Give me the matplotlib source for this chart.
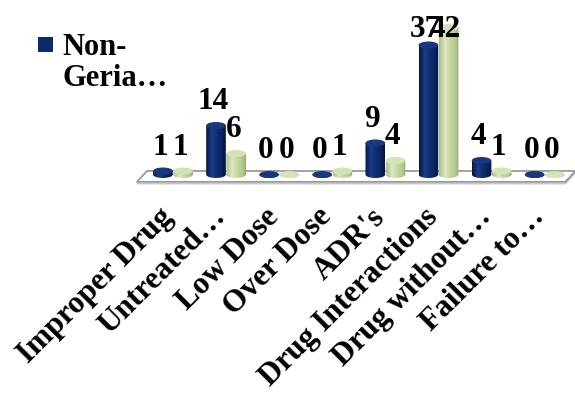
import numpy as np
import matplotlib
matplotlib.use("Agg")
import matplotlib.pyplot as plt
from matplotlib.patches import Ellipse, Polygon, Rectangle, PathPatch
from matplotlib.path import Path
from matplotlib.colors import LinearSegmentedColormap
from matplotlib.transforms import ScaledTranslation

categories = ["Improper Drug", "Untreated…", "Low Dose", "Over Dose",
              "ADR's", "Drug Interactions", "Drug without…", "Failure to…"]
non_geriatric = [1, 14, 0, 0, 9, 37, 4, 0]
geriatric = [1, 6, 0, 1, 4, 42, 1, 0]
legend_label = "Non-\nGeria…"

FONT = "Liberation Serif"
W, H, DPI = 5.75, 3.94, 100
FS = 22.5

fig = plt.figure(figsize=(W, H), dpi=DPI)
fig.patch.set_facecolor("white")

# axes placed so that one category step is ~53 px and one unit is ~3.5 px
xlim = (-0.72, 7.58)
ylim = (-3.0, 46.0)
px_cat, px_unit = 53.1, 3.5
x0_px = 173 - (0 - xlim[0]) * px_cat
y0_px = 174.5 + (0 - ylim[0]) * px_unit          # from top
ax_w = (xlim[1] - xlim[0]) * px_cat
ax_h = (ylim[1] - ylim[0]) * px_unit
ax = fig.add_axes([x0_px / (W * DPI), 1 - y0_px / (H * DPI),
                   ax_w / (W * DPI), ax_h / (H * DPI)])
ax.set_xlim(*xlim)
ax.set_ylim(*ylim)
for s in ax.spines.values():
    s.set_visible(False)
ax.set_yticks([])

# floor of the 3-D plot area
n = len(categories)
fl_front, fl_back = -2.1, 1.0
floor = [(-0.68, fl_front), (-0.49, fl_back), (n - 1 + 0.58, fl_back), (n - 1 + 0.39, fl_front)]
shadow = [(x, y - 0.5) for x, y in floor]
ax.add_patch(Polygon(shadow, closed=True, facecolor="none", edgecolor="#c8c8c8", lw=1.2, zorder=1))
ax.add_patch(Polygon(floor, closed=True, facecolor="white", edgecolor="#9a9a9a", lw=1.3, zorder=2))

bar_w = 0.37
offset = 0.19
ell_h = 1.0   # semi-height of cylinder caps in data units

navy_cmap = LinearSegmentedColormap.from_list(
    "navy", [(0, "#071540"), (0.3, "#1d3c8c"), (0.45, "#143378"), (0.8, "#0b2262"), (1, "#061338")])
green_cmap = LinearSegmentedColormap.from_list(
    "green", [(0, "#a9bf83"), (0.3, "#dce8c4"), (0.5, "#cadba6"), (0.85, "#b3c88c"), (1, "#93a86c")])
navy_top, green_top = "#1a3780", "#d4e2b6"


def cylinder(cx, v, cmap, top_color, z):
    a = bar_w / 2
    t = np.linspace(np.pi, 2 * np.pi, 60)
    verts = [(cx - a, v), (cx - a, 0)]
    verts += list(zip(cx + a * np.cos(t), ell_h * np.sin(t)))
    verts += [(cx + a, 0), (cx + a, v), (cx - a, v)]
    patch = PathPatch(Path(verts, closed=True), facecolor="none", edgecolor="none", zorder=z)
    ax.add_patch(patch)
    grad = np.linspace(0, 1, 64).reshape(1, -1)
    im = ax.imshow(grad, cmap=cmap, aspect="auto", interpolation="bilinear",
                   extent=(cx - a, cx + a, -ell_h, max(v, 0.01)), zorder=z)
    im.set_clip_path(patch)
    ax.add_patch(Ellipse((cx, v), 2 * a, 2 * ell_h, facecolor=top_color,
                         edgecolor="none", zorder=z + 0.1))


xs = np.arange(n)
for i in range(n):
    cylinder(xs[i] - offset, non_geriatric[i], navy_cmap, navy_top, 3 + 0.01 * i)
    cylinder(xs[i] + offset, geriatric[i], green_cmap, green_top, 3.5 + 0.01 * i)

# value labels sit above each cylinder, kept inside the plot area at the top
label_gap = 4.7
label_ceiling = 39.3
lab_kw = dict(ha="center", va="baseline", fontsize=FS, fontweight="bold",
              family=FONT, color="black", zorder=10)
shift = ScaledTranslation(-3 / DPI, 0, fig.dpi_scale_trans)
for i in range(n):
    for val, dx in ((non_geriatric[i], -offset), (geriatric[i], offset)):
        t = ax.text(xs[i] + dx, min(val + label_gap, label_ceiling), f"{val}", **lab_kw)
        t.set_transform(ax.transData + shift)

ax.set_xticks(xs)
ax.set_xticklabels(categories, rotation=45, ha="right", va="top", rotation_mode="anchor",
                   fontsize=FS, fontweight="bold", family=FONT)
ax.tick_params(axis="x", length=0, pad=4)
tick_shift = ScaledTranslation(-15 / DPI, -12 / DPI, fig.dpi_scale_trans)
for lbl in ax.get_xticklabels():
    lbl.set_transform(lbl.get_transform() + tick_shift)

# legend entry
fig.patches.append(Rectangle((38 / (W * DPI), 1 - 52 / (H * DPI)), 15 / (W * DPI), 15 / (H * DPI),
                             transform=fig.transFigure, facecolor="#0d2a6b", edgecolor="none"))
fig.text(62 / (W * DPI), 1 - 33 / (H * DPI), legend_label, ha="left", va="top",
         fontsize=22, fontweight="bold", family=FONT, linespacing=1.1)

fig.savefig("out.png", dpi=DPI, facecolor="white")
